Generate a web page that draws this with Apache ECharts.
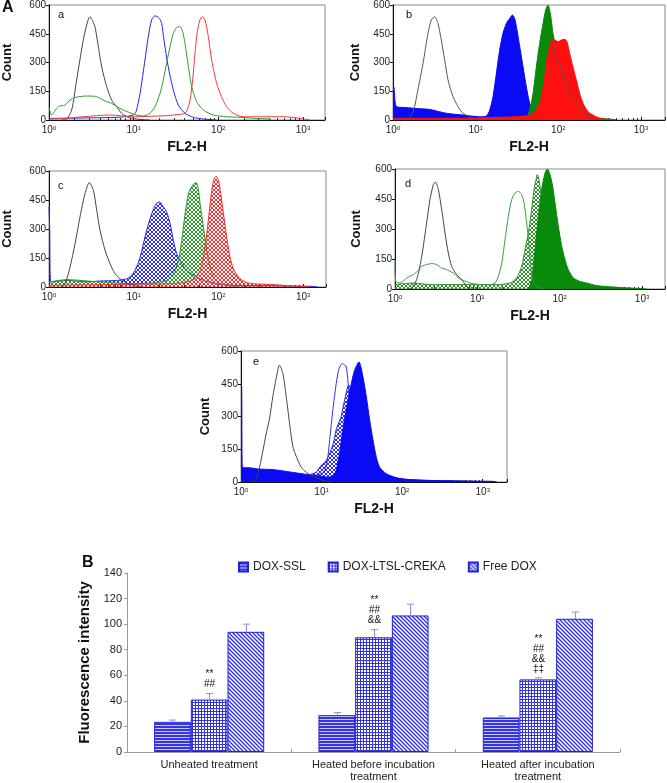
<!DOCTYPE html>
<html>
<head>
<meta charset="utf-8">
<script src="https://cdn.jsdelivr.net/npm/echarts@6.0.0/dist/echarts.min.js"></script>
<style>
  html, body { margin: 0; padding: 0; background: #fff; }
  #main { width: 667px; height: 783px; }
</style>
</head>
<body>
<div id="main"></div>
<script>
// ---- histogram data: [FL2-H, count] ----
const aBlack = [[1.4,0],[1.55,0],[1.85,52],[2.12,209],[2.54,417],[2.84,510],[3.05,539],[3.25,520],[3.49,487],[3.72,417],[4.19,278],[4.8,174],[5.5,104],[6.3,70],[7.2,35],[8.65,14],[10.8,5],[15.5,0]];
const aBlue = [[1,8],[2,10],[4,12],[7,15],[9.9,26],[10.7,45],[11.9,139],[13.6,313],[14.9,435],[16.3,522],[17.9,544],[20.1,530],[21.4,504],[22.8,417],[25.6,278],[29.4,157],[33.7,78],[40.4,35],[50.7,14],[66.5,5],[95.6,0]];
const aGreen = [[1,70],[1.07,26],[1.29,70],[1.55,78],[1.77,104],[2.03,118],[2.32,122],[2.66,125],[3.05,125],[3.66,122],[4.19,108],[4.8,96],[5.5,87],[6.3,70],[7.55,52],[9.05,38],[10.8,26],[13,21],[15.6,35],[17.9,70],[20.5,139],[22.4,209],[24.5,296],[26.9,383],[29.4,452],[32.2,483],[35.3,487],[37.9,461],[40.4,400],[44.3,278],[48.4,174],[55.5,96],[66.5,52],[87.3,26],[125,17],[180,14],[259,9],[408,5],[420,0]];
const aRed = [[1,5],[1.5,8],[2.54,17],[5.25,26],[9.9,17],[20.5,21],[29.4,26],[40.4,35],[43.5,60],[46.3,104],[49.8,209],[53,348],[56.5,461],[60.7,522],[64.7,539],[69.6,522],[76.2,435],[83.4,313],[95.6,191],[109,122],[125,70],[150,35],[197,17],[372,17],[586,17],[922,9],[1210,0]];

const bBlack = [[1.3,0],[1.45,0],[1.75,43],[2.0,157],[2.31,296],[2.65,452],[2.91,522],[3.19,539],[3.5,504],[3.84,417],[4.22,313],[4.63,209],[5.32,122],[6.11,70],[7.03,35],[8.45,17],[10.2,3],[12,0]];
const bBlue = [[1,174],[1.02,174],[1.1,70],[1.45,65],[1.91,60],[2.78,55],[4.42,35],[7.03,26],[11.2,17],[13.5,21],[14.8,52],[16.2,122],[17.8,243],[19.5,365],[21.4,452],[23.5,504],[25.8,530],[27.8,548],[29.6,530],[31.6,470],[34.1,383],[37.4,278],[41,174],[45,87],[49.4,43],[56.8,17],[68.3,5],[94.6,0]];
const bGreen = [[37.4,0],[41,9],[45,52],[49.4,139],[54.2,278],[59.4,400],[65.3,504],[70.3,574],[75,600],[80,557],[86.1,452],[94.6,365],[104,278],[125,139],[165,52],[239,17],[458,3],[500,0]];
const bRed = [[1,9],[7,9],[17.8,14],[31,17],[45,26],[54.2,52],[62.2,122],[68.3,226],[75,348],[82.3,409],[90.3,417],[99.1,409],[109,417],[119,421],[127,409],[137,348],[150,278],[165,209],[181,139],[199,87],[229,43],[262,26],[316,9],[381,3],[503,0]];
const bGray = [[82.3,391],[104,287],[125,191],[150,122],[181,70],[217,26],[262,3]];

const cBlack = [[1.4,0],[1.55,17],[1.77,103],[2.03,224],[2.32,362],[2.66,483],[2.99,540],[3.34,500],[3.66,397],[4.0,293],[4.59,190],[5.25,121],[6.02,69],[6.9,43],[8.26,21],[9.9,9],[12.5,0]];
const cBlue = [[1,414],[1.02,300],[1.05,26],[1.62,34],[2.79,26],[4.0,31],[6.3,34],[8.26,43],[9.47,60],[10.8,103],[11.9,155],[13,224],[14.2,293],[16.3,379],[18.4,431],[20.1,440],[22.4,414],[24.5,388],[26.9,328],[29.4,241],[32.2,172],[36.9,121],[42.3,86],[50.7,60],[66.5,34],[95.6,17],[150,9],[372,7],[1324,3],[1500,0]];
const cGreen = [[1,26],[1.62,38],[4.0,26],[9.9,17],[17.1,21],[24.5,34],[29.4,69],[33.7,138],[36.9,241],[40.4,379],[44.3,483],[48.4,520],[51.6,535],[54.5,540],[58,505],[60.7,431],[66.5,310],[72.8,190],[79.7,103],[87.3,52],[100,21],[125,9],[180,0]];
const cRed = [[1,9],[9.9,14],[29.4,17],[42.3,26],[53,43],[60.7,86],[66.5,155],[72.8,276],[78.3,397],[83.4,500],[88.9,560],[93.8,572],[100,552],[106.6,483],[114.6,379],[125,259],[137,155],[150,95],[172,52],[206,26],[259,17],[372,14],[586,9],[922,3],[1210,0]];

const dBlack = [[1.4,0],[1.52,0],[1.83,47],[2.11,163],[2.42,330],[2.66,447],[2.92,522],[3.09,535],[3.36,497],[3.69,397],[4.05,280],[4.44,180],[4.88,113],[5.61,72],[6.45,47],[7.41,13],[8.2,0]];
const dGreenLine = [[1,147],[1.02,38],[1.15,30],[1.39,55],[1.67,72],[1.92,93],[2.11,113],[2.42,122],[2.79,127],[3.21,122],[3.69,105],[4.24,97],[5.11,80],[5.88,55],[6.76,43],[8.15,30],[10.8,22],[14.2,22],[16.4,30],[18,63],[19.8,130],[21.7,247],[23.8,363],[26.1,447],[28.7,480],[31.5,488],[34.5,472],[36.9,430],[39.7,330],[42.5,213],[44.9,97],[47.9,38],[52.6,13],[63.3,0]];
const dGreenHatch = [[1,22],[1.67,30],[2.66,22],[6.76,22],[17.2,22],[24.9,30],[30,55],[34.5,113],[37.9,197],[41.6,280],[45.7,397],[48.8,497],[51.6,547],[53.5,572],[55.6,555],[57.7,513],[60.4,463],[63.3,380],[69.5,230],[76.3,130],[87.8,55],[111,22],[147,10],[194,0]];
const dGreenFill = [[41.6,0],[45.7,47],[50.1,197],[55.1,363],[60.4,497],[66.4,580],[70.8,600],[76.3,572],[82.2,513],[87.8,430],[96.3,313],[106,213],[116,147],[127,97],[147,55],[177,38],[213,30],[281,17],[449,10],[715,5],[1140,0]];

const eBlack = [[1.4,0],[1.54,15],[1.7,68],[1.87,143],[2.05,220],[2.26,290],[2.48,391],[2.73,474],[3.0,535],[3.31,497],[3.64,391],[4.0,270],[4.4,163],[4.84,118],[5.58,68],[6.45,45],[7.44,30],[8.59,20],[9.93,11],[11.4,3],[13,0]];
const eBlueFill = [[1,444],[1.02,440],[1.04,68],[1.3,65],[1.6,60],[2.6,56],[4.2,45],[6.5,35],[8.5,30],[10,26],[12,22],[14,30],[15.2,55],[16.7,130],[18.4,240],[20.2,330],[23.4,451],[25.7,512],[29.1,550],[32.6,482],[35.9,391],[39.5,284],[43.4,193],[47.8,113],[52.5,68],[63.5,38],[84.5,20],[113,12],[181,8],[471,5],[1350,3],[1500,0]];
const eBlueLine = [[6,20],[8.2,30],[10,38],[11.2,60],[12,118],[12.6,193],[13.8,330],[15.2,451],[16.5,520],[18.1,542],[19.5,535],[20.3,527],[21.2,466],[22.5,350],[24,250],[27,150],[32,90],[40,60],[55,40],[70,25],[100,12],[150,8],[250,4],[400,0]];
const eBlueHatch = [[6,25],[8.6,45],[9.44,68],[11.4,98],[13.8,170],[15.2,240],[16.7,280],[17.5,300],[19.3,375],[21.7,444],[23,420],[25,340],[28,250],[33,180],[40,120],[47,80],[52.5,53],[63,30],[93,15],[180,8],[760,3],[1000,0]];

const countTicks = [0, 150, 300, 450, 600];

// ---- bar chart data ----
const categories = ['Unheated treatment', 'Heated before incubation\ntreatment', 'Heated after incubation\ntreatment'];
const doxSsl = [23.6, 28.8, 27];
const doxSslErr = [1.4, 2.1, 1.2];
const doxLtsl = [41, 89.7, 56.8];
const doxLtslErr = [4.7, 6, 1.2];
const freeDox = [94, 106.8, 104.2];
const freeDoxErr = [6, 8.8, 5.2];
const marks = ['**\n##', '**\n##\n&&', '**\n##\n&&\n\u2021\u2021'];

const FONT = '"Liberation Sans", Arial, sans-serif';

function pattern(w, h, draw) {
  const c = document.createElement('canvas');
  c.width = w; c.height = h;
  draw(c.getContext('2d'));
  return { image: c, repeat: 'repeat' };
}
function cross(col) {
  return pattern(4, 4, g => {
    g.strokeStyle = col; g.lineWidth = 1;
    g.beginPath();
    g.moveTo(0, 0); g.lineTo(4, 4);
    g.moveTo(4, 0); g.lineTo(0, 4);
    g.stroke();
  });
}
const barBlue = '#3434e2';
const patSsl = pattern(4, 3, g => {
  g.fillStyle = barBlue; g.fillRect(0, 0, 4, 3);
  g.fillStyle = '#c9c9ff'; g.fillRect(0, 2, 4, 1);
});
const patLtsl = pattern(3, 3, g => {
  g.fillStyle = barBlue; g.fillRect(0, 0, 3, 3);
  g.fillStyle = '#ffffff'; g.fillRect(1, 1, 2, 2);
});
const patFree = pattern(4, 4, g => {
  g.fillStyle = '#ffffff'; g.fillRect(0, 0, 4, 4);
  g.strokeStyle = barBlue; g.lineWidth = 1.4;
  g.beginPath();
  g.moveTo(-1, -1); g.lineTo(5, 5);
  g.moveTo(-1, 3); g.lineTo(1, 5);
  g.moveTo(3, -1); g.lineTo(5, 1);
  g.stroke();
});

// panel boxes
const panels = [
  { left: 49, top: 5, width: 276, height: 115, max: 1820, gap: 35 },
  { left: 393, top: 5, width: 272, height: 115, max: 1950, gap: 31 },
  { left: 49, top: 171, width: 277, height: 116, max: 1860, gap: 35 },
  { left: 395, top: 169, width: 270, height: 120, max: 1900, gap: 32 },
  { left: 241, top: 351, width: 266, height: 131, max: 2000, gap: 29 }
];

const grids = [], xAxes = [], yAxes = [];
panels.forEach((p, i) => {
  grids.push({ left: p.left, top: p.top, width: p.width, height: p.height, show: true, borderColor: '#8a8a8a', borderWidth: 1 });
  xAxes.push({
    type: 'log', logBase: 10, gridIndex: i, min: 1, max: p.max,
    name: 'FL2-H', nameLocation: 'middle', nameGap: 20,
    nameTextStyle: { fontFamily: FONT, fontWeight: 'bold', fontSize: 14, color: '#111' },
    axisLine: { lineStyle: { color: '#111', width: 1 } },
    axisTick: { show: true, inside: true, length: 3, lineStyle: { color: '#111' } },
    minorTick: { show: true, splitNumber: 9, length: 2, lineStyle: { color: '#333' } },
    splitLine: { show: false },
    axisLabel: {
      showMaxLabel: false, margin: 5, color: '#222', fontFamily: FONT, fontSize: 10,
      formatter: v => '10{s|' + Math.round(Math.log10(v)) + '}',
      rich: { s: { fontSize: 6, verticalAlign: 'top', lineHeight: 8, fontFamily: FONT, color: '#222' } }
    }
  });
  yAxes.push({
    type: 'value', gridIndex: i, min: countTicks[0], max: countTicks[countTicks.length - 1], interval: 150,
    name: 'Count', nameLocation: 'middle', nameGap: p.gap,
    nameTextStyle: { fontFamily: FONT, fontWeight: 'bold', fontSize: 13, color: '#111' },
    axisLine: { show: true, lineStyle: { color: '#111', width: 1 } },
    axisTick: { show: true, length: 3, lineStyle: { color: '#111' } },
    splitLine: { show: false },
    axisLabel: { margin: 3, color: '#222', fontFamily: FONT, fontSize: 10 }
  });
});

// bar chart grid
grids.push({ left: 127, top: 573, width: 493, height: 180 });
xAxes.push({
  type: 'category', gridIndex: 5, data: categories,
  axisLine: { lineStyle: { color: '#9a9a9a' } },
  axisTick: { show: true, inside: true, length: 3, lineStyle: { color: '#9a9a9a' } },
  axisLabel: { color: '#222', fontFamily: FONT, fontSize: 11, lineHeight: 12, margin: 7 }
});
yAxes.push({
  type: 'value', gridIndex: 5, min: 0, max: 140, interval: 20,
  name: 'Fluorescence intensity', nameLocation: 'middle', nameGap: 29,
  nameTextStyle: { fontFamily: FONT, fontWeight: 'bold', fontSize: 15, color: '#111' },
  axisLine: { show: true, lineStyle: { color: '#9a9a9a' } },
  axisTick: { show: true, length: 3, lineStyle: { color: '#9a9a9a' } },
  splitLine: { show: false },
  axisLabel: { color: '#222', fontFamily: FONT, fontSize: 11, margin: 5 }
});

// stacking order: each histogram series gets its own z, in the order listed
let zOrder = 2;
function line(i, data, color, extra) {
  return Object.assign({
    type: 'line', xAxisIndex: i, yAxisIndex: i, data: data, z: zOrder++,
    symbol: 'none', smooth: 0.25, silent: true,
    lineStyle: { color: color, width: 1 }, itemStyle: { color: color }
  }, extra || {});
}
function filled(i, data, color) {
  return line(i, data, color, { areaStyle: { color: color, opacity: 1 } });
}
function hatched(i, data, color) {
  return line(i, data, color, { areaStyle: { color: cross(color), opacity: 1 } });
}

const BLK = '#454545', BLU = '#2424f0', GRN = '#2f9a2f', RED = '#f03a3a';
const FBLU = '#0a0af5', FGRN = '#0a8a0a', FRED = '#ff1010';

const series = [
  // a
  line(0, aBlack, BLK), line(0, aBlue, BLU), line(0, aGreen, GRN), line(0, aRed, RED),
  // b
  filled(1, bBlue, FBLU), filled(1, bGreen, FGRN), filled(1, bRed, FRED),
  line(1, bBlack, '#555'), line(1, bGray, '#6a4a4a'),
  // c
  hatched(2, cBlue, '#2b2be8'), hatched(2, cGreen, '#2a992a'), hatched(2, cRed, '#f23030'),
  line(2, cBlack, BLK),
  // d
  hatched(3, dGreenHatch, '#2a922a'), filled(3, dGreenFill, FGRN),
  line(3, dGreenLine, '#3a9e3a'), line(3, dBlack, BLK),
  // e
  hatched(4, eBlueHatch, '#2b2be8'), line(4, eBlueLine, '#3030f0'),
  filled(4, eBlueFill, FBLU), line(4, eBlack, BLK)
];

const barStyle = (c) => ({ color: c, borderColor: '#2020d8', borderWidth: 1 });
series.push(
  { type: 'bar', name: 'DOX-SSL', xAxisIndex: 5, yAxisIndex: 5, data: doxSsl, itemStyle: barStyle(patSsl), barGap: '0%', barCategoryGap: '33%' },
  { type: 'bar', name: 'DOX-LTSL-CREKA', xAxisIndex: 5, yAxisIndex: 5, data: doxLtsl, itemStyle: barStyle(patLtsl), barGap: '0%', barCategoryGap: '33%' },
  { type: 'bar', name: 'Free DOX', xAxisIndex: 5, yAxisIndex: 5, data: freeDox, itemStyle: barStyle(patFree), barGap: '0%', barCategoryGap: '33%' }
);

function errSeries(s, vals, errs) {
  return {
    type: 'custom', xAxisIndex: 5, yAxisIndex: 5, silent: true, z: 5,
    data: vals.map((v, k) => [k, v, errs[k]]),
    renderItem: function (params, api) {
      const k = api.value(0), v = api.value(1), e = api.value(2);
      const base = api.coord([k, v]);
      const top = api.coord([k, v + e]);
      const bw = api.size([1, 0])[0] * 0.67 / 3;
      const x = Math.round(base[0] + (s - 1) * bw) + 0.5;
      const st = { stroke: '#8c8cee', lineWidth: 1 };
      const kids = [
        { type: 'line', shape: { x1: x, y1: base[1], x2: x, y2: top[1] }, style: st },
        { type: 'line', shape: { x1: x - 3.5, y1: top[1], x2: x + 3.5, y2: top[1] }, style: st }
      ];
      if (s === 1) {
        kids.push({
          type: 'text', x: x, y: top[1] - 4,
          style: { text: marks[params.dataIndex], font: '10px ' + FONT, fill: '#111', align: 'center', verticalAlign: 'bottom', lineHeight: 10 }
        });
      }
      return { type: 'group', children: kids };
    }
  };
}
series.push(errSeries(0, doxSsl, doxSslErr), errSeries(1, doxLtsl, doxLtslErr), errSeries(2, freeDox, freeDoxErr));

const letters = [
  { t: 'A', l: 2, tp: 0, f: 'bold 16px ' + FONT },
  { t: 'a', l: 58, tp: 9, f: '11px ' + FONT },
  { t: 'b', l: 406, tp: 9, f: '11px ' + FONT },
  { t: 'c', l: 58, tp: 180, f: '11px ' + FONT },
  { t: 'd', l: 405, tp: 178, f: '11px ' + FONT },
  { t: 'e', l: 253, tp: 356, f: '11px ' + FONT },
  { t: 'B', l: 82, tp: 555, f: 'bold 16px ' + FONT }
];

const chart = echarts.init(document.getElementById('main'), null, { renderer: 'canvas' });
chart.setOption({
  animation: false,
  backgroundColor: '#fff',
  textStyle: { fontFamily: FONT },
  grid: grids,
  xAxis: xAxes,
  yAxis: yAxes,
  legend: {
    data: ['DOX-SSL', 'DOX-LTSL-CREKA', 'Free DOX'],
    left: 233, top: 556, itemWidth: 9, itemHeight: 9, itemGap: 22, icon: 'rect',
    textStyle: { fontFamily: FONT, fontSize: 12, color: '#222' }
  },
  graphic: letters.map(o => ({ type: 'text', left: o.l, top: o.tp, style: { text: o.t, font: o.f, fill: '#111' } })),
  series: series
});
</script>
</body>
</html>
